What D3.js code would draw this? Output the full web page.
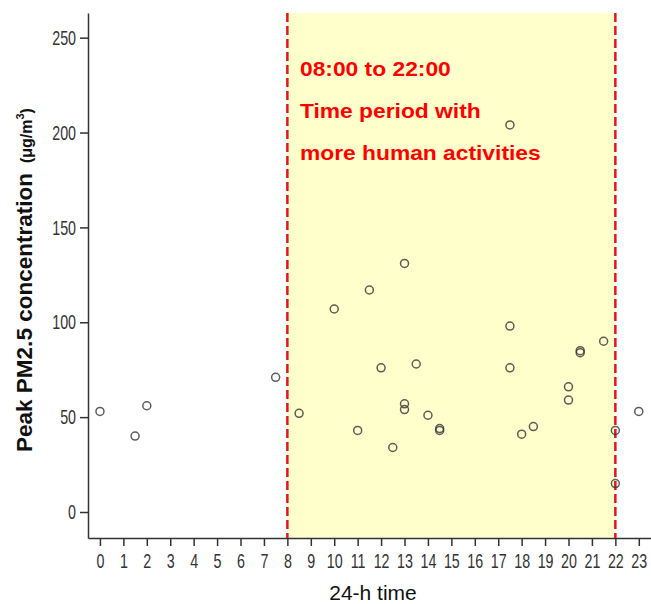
<!DOCTYPE html>
<html>
<head>
<meta charset="utf-8">
<script src="https://cdn.jsdelivr.net/npm/d3@7"></script>
<style>
  body { margin: 0; background: #fff; }
  .axis text { font-family: "Liberation Sans", Arial, sans-serif; font-size: 21px; fill: #333; }
  .axis path, .axis line { stroke: #333; stroke-width: 1.5; }
</style>
</head>
<body>
<div id="chart"></div>
<script>
// hour of day and peak PM2.5 value per event
var hours  = [0, 1.5, 2, 7.5, 8.5, 10, 11, 11.5, 12, 12.5, 13, 13, 13, 13.5, 14, 14.5, 14.5,
              17.5, 17.5, 17.5, 18, 18.5, 20, 20, 20.5, 20.5, 21.5, 22, 22, 23];
var values = [53, 40, 56, 71, 52, 107, 43, 117, 76, 34, 131, 57, 54, 78, 51, 43, 44,
              204, 98, 76, 41, 45, 66, 59, 84, 85, 90, 43, 15, 53];

var xTicks = d3.range(0, 24);
var yTicks = [0, 50, 100, 150, 200, 250];
var period = [8, 22];
var notes = ["08:00 to 22:00", "Time period with", "more human activities"];

var svgWidth = 651;
var svgHeight = 604;
var squeeze = 0.68;   // tick labels are drawn narrow

var svg = d3.select("#chart")
    .append("svg")
    .attr("width", svgWidth)
    .attr("height", svgHeight);

var xScale = d3.scaleLinear()
    .domain([-0.51, 23.5])
    .range([88, 650.5]);

var yScale = d3.scaleLinear()
    .domain([-13.7, 263])
    .range([538, 13]);

// shaded activity period
svg.append("rect")
    .attr("x", xScale(period[0]))
    .attr("y", yScale(263))
    .attr("width", xScale(period[1]) - xScale(period[0]))
    .attr("height", yScale(-13.7) - yScale(263))
    .attr("fill", "#ffffcc");

// axes
var bottomAxis = d3.axisBottom(xScale)
    .tickValues(xTicks)
    .tickFormat(d3.format("d"))
    .tickSizeInner(8)
    .tickSizeOuter(0);

var leftAxis = d3.axisLeft(yScale)
    .tickValues(yTicks)
    .tickSizeInner(8)
    .tickSizeOuter(0);

svg.append("g")
    .attr("class", "axis")
    .attr("transform", "translate(0, 538)")
    .call(bottomAxis)
    .selectAll("text")
    .attr("y", 30)
    .attr("dy", 0)
    .attr("transform", `scale(${squeeze}, 1)`);

svg.append("g")
    .attr("class", "axis")
    .attr("transform", "translate(88, 0)")
    .call(leftAxis)
    .selectAll("text")
    .attr("x", -12 / squeeze)
    .attr("transform", `scale(${squeeze}, 1)`);

// dashed boundary lines
svg.selectAll(".bound")
    .data(period)
    .enter()
    .append("line")
    .attr("class", "bound")
    .attr("x1", d => xScale(d))
    .attr("x2", d => xScale(d))
    .attr("y1", yScale(263))
    .attr("y2", yScale(-13.7))
    .attr("stroke", "#e8141a")
    .attr("stroke-width", 2.5)
    .attr("stroke-dasharray", "9,4");

// points
svg.selectAll("circle")
    .data(hours)
    .enter()
    .append("circle")
    .attr("cx", d => xScale(d))
    .attr("cy", (d, i) => yScale(values[i]))
    .attr("r", 4)
    .attr("fill", "none")
    .attr("stroke", "#333")
    .attr("stroke-opacity", 0.8)
    .attr("stroke-width", 1.5);

// annotation
svg.append("g")
    .attr("transform", "translate(300, 0) scale(1.14, 1)")
    .selectAll(".note")
    .data(notes)
    .enter()
    .append("text")
    .attr("class", "note")
    .attr("x", 0)
    .attr("y", (d, i) => 76 + i * 42)
    .attr("fill", "#f00")
    .style("font-family", "Liberation Sans, Arial, sans-serif")
    .style("font-size", "20px")
    .style("font-weight", "bold")
    .text(d => d);

// axis titles
svg.append("text")
    .attr("x", 373)
    .attr("y", 600)
    .attr("text-anchor", "middle")
    .attr("fill", "#111")
    .style("font-family", "Liberation Sans, Arial, sans-serif")
    .style("font-size", "21px")
    .text("24-h time");

var yTitle = svg.append("text")
    .attr("transform", "translate(32, 280) rotate(-90)")
    .attr("text-anchor", "middle")
    .attr("fill", "#111")
    .style("font-family", "Liberation Sans, Arial, sans-serif")
    .style("font-weight", "bold")
    .style("font-size", "22.5px");

yTitle.append("tspan").text("Peak PM2.5 concentration");
yTitle.append("tspan").attr("dx", 10).style("font-size", "16px").text("(μg/m");
yTitle.append("tspan").style("font-size", "11px").attr("dy", -8).text("3");
yTitle.append("tspan").style("font-size", "16px").attr("dy", 8).text(")");
</script>
</body>
</html>
